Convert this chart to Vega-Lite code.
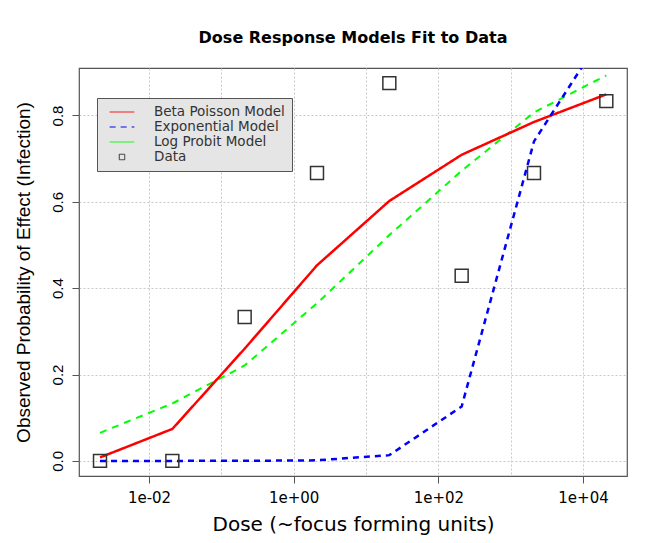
{
  "$schema": "https://vega.github.io/schema/vega-lite/v6.json",
  "width": 548,
  "height": 408,
  "autosize": {"type": "none"},
  "padding": {"left": 79, "top": 68, "right": 31, "bottom": 67},
  "background": "white",
  "config": {
    "font": "DejaVu Sans",
    "view": {"stroke": "#555555", "strokeWidth": 1.2},
    "axis": {
      "domain": false,
      "grid": true,
      "gridColor": "#c8c8c8",
      "gridDash": [2, 2],
      "gridWidth": 1,
      "tickColor": "#555555",
      "tickSize": 7,
      "tickWidth": 1,
      "labelFont": "DejaVu Sans",
      "labelFontSize": 15,
      "labelColor": "black",
      "titleFont": "DejaVu Sans",
      "titleFontSize": 20,
      "titleFontWeight": "normal",
      "titleColor": "black"
    }
  },
  "title": {
    "text": "Dose Response Models Fit to Data",
    "font": "DejaVu Sans",
    "fontSize": 16,
    "fontWeight": "bold",
    "color": "black",
    "anchor": "middle",
    "offset": 22
  },
  "data": {
    "values": [
      {"dose": 0.0021, "p": 0.008, "series": "Beta Poisson Model"},
      {"dose": 0.021, "p": 0.074, "series": "Beta Poisson Model"},
      {"dose": 0.21, "p": 0.26, "series": "Beta Poisson Model"},
      {"dose": 2.1, "p": 0.453, "series": "Beta Poisson Model"},
      {"dose": 21, "p": 0.602, "series": "Beta Poisson Model"},
      {"dose": 210, "p": 0.709, "series": "Beta Poisson Model"},
      {"dose": 2100, "p": 0.785, "series": "Beta Poisson Model"},
      {"dose": 21000, "p": 0.849, "series": "Beta Poisson Model"},
      {"dose": 0.0021, "p": 0.0000013, "series": "Exponential Model"},
      {"dose": 0.021, "p": 0.000013, "series": "Exponential Model"},
      {"dose": 0.21, "p": 0.00013, "series": "Exponential Model"},
      {"dose": 2.1, "p": 0.0013, "series": "Exponential Model"},
      {"dose": 21, "p": 0.0133, "series": "Exponential Model"},
      {"dose": 210, "p": 0.126, "series": "Exponential Model"},
      {"dose": 2100, "p": 0.74, "series": "Exponential Model"},
      {"dose": 21000, "p": 1.0, "series": "Exponential Model"},
      {"dose": 0.0021, "p": 0.065, "series": "Log Probit Model"},
      {"dose": 0.021, "p": 0.133, "series": "Log Probit Model"},
      {"dose": 0.21, "p": 0.221, "series": "Log Probit Model"},
      {"dose": 2.1, "p": 0.365, "series": "Log Probit Model"},
      {"dose": 21, "p": 0.523, "series": "Log Probit Model"},
      {"dose": 210, "p": 0.672, "series": "Log Probit Model"},
      {"dose": 2100, "p": 0.807, "series": "Log Probit Model"},
      {"dose": 21000, "p": 0.893, "series": "Log Probit Model"},
      {"dose": 0.0021, "p": 0, "series": "Data"},
      {"dose": 0.021, "p": 0, "series": "Data"},
      {"dose": 0.21, "p": 0.3333, "series": "Data"},
      {"dose": 2.1, "p": 0.6667, "series": "Data"},
      {"dose": 21, "p": 0.875, "series": "Data"},
      {"dose": 210, "p": 0.4286, "series": "Data"},
      {"dose": 2100, "p": 0.6667, "series": "Data"},
      {"dose": 21000, "p": 0.8333, "series": "Data"}
    ]
  },
  "encoding": {
    "x": {
      "field": "dose",
      "type": "quantitative",
      "scale": {"type": "log", "domain": [0.001076, 40550], "nice": false},
      "axis": {
        "title": "Dose (~focus forming units)",
        "values": [0.01, 0.1, 1, 10, 100, 1000, 10000],
        "labelExpr": "datum.value == 0.01 ? '1e-02' : datum.value == 1 ? '1e+00' : datum.value == 100 ? '1e+02' : datum.value == 10000 ? '1e+04' : ''",
        "tickOpacity": {"condition": {"test": "datum.value == 0.01 || datum.value == 1 || datum.value == 100 || datum.value == 10000", "value": 1}, "value": 0},
        "labelPadding": 7,
        "titlePadding": 9
      }
    },
    "y": {
      "field": "p",
      "type": "quantitative",
      "scale": {"domain": [-0.035, 0.91], "nice": false, "zero": false},
      "axis": {
        "title": "Observed Probability of Effect (Infection)",
        "titleFont": "Liberation Sans",
        "titleFontSize": 19,
        "values": [0, 0.2, 0.4, 0.6, 0.8],
        "format": ".1f",
        "labelFont": "Liberation Sans",
        "labelAngle": 270,
        "labelAlign": "center",
        "labelBaseline": "alphabetic",
        "labelPadding": 10,
        "titlePadding": 17
      }
    }
  },
  "layer": [
    {
      "transform": [{"filter": "datum.series == 'Log Probit Model'"}],
      "mark": {"type": "line", "clip": true, "strokeWidth": 2, "strokeDash": [7, 6]},
      "encoding": {
        "color": {"field": "series", "type": "nominal",
          "scale": {"domain": ["Beta Poisson Model", "Exponential Model", "Log Probit Model", "Data"], "range": ["#ff0000", "#0000ff", "#00ff00", "#333333"]},
          "legend": {"title": null, "orient": "none", "legendX": 18, "legendY": 30, "fillColor": "#e5e5e5", "strokeColor": "#555555", "padding": 7, "symbolOffset": 11, "symbolSize": 169, "symbolStrokeWidth": 1, "labelFont": "DejaVu Sans", "labelFontSize": 13.5, "labelColor": "#333333", "labelOffset": 25, "rowPadding": 1, "labelLimit": 300, "cornerRadius": 0}
        }
      }
    },
    {
      "transform": [{"filter": "datum.series == 'Beta Poisson Model' || datum.series == 'Exponential Model'"}],
      "mark": {"type": "line", "clip": true, "strokeWidth": 2.5},
      "encoding": {
        "color": {"field": "series", "type": "nominal"},
        "strokeDash": {"field": "series", "type": "nominal",
          "scale": {"domain": ["Beta Poisson Model", "Exponential Model", "Log Probit Model", "Data"], "range": [[1, 0], [6, 5], [1, 0], [1, 0]]}
        }
      }
    },
    {
      "transform": [{"filter": "datum.series == 'Data'"}],
      "mark": {"type": "point", "filled": false, "size": 950, "strokeWidth": 1.5, "opacity": 1, "clip": true},
      "encoding": {
        "color": {"field": "series", "type": "nominal"},
        "shape": {"field": "series", "type": "nominal",
          "scale": {"domain": ["Beta Poisson Model", "Exponential Model", "Log Probit Model", "Data"], "range": ["M-1.9,0H1.9", "M-1.9,0H1.9", "M-1.9,0H1.9", "M-0.42,-0.42H0.42V0.42H-0.42Z"]}
        }
      }
    }
  ]
}
